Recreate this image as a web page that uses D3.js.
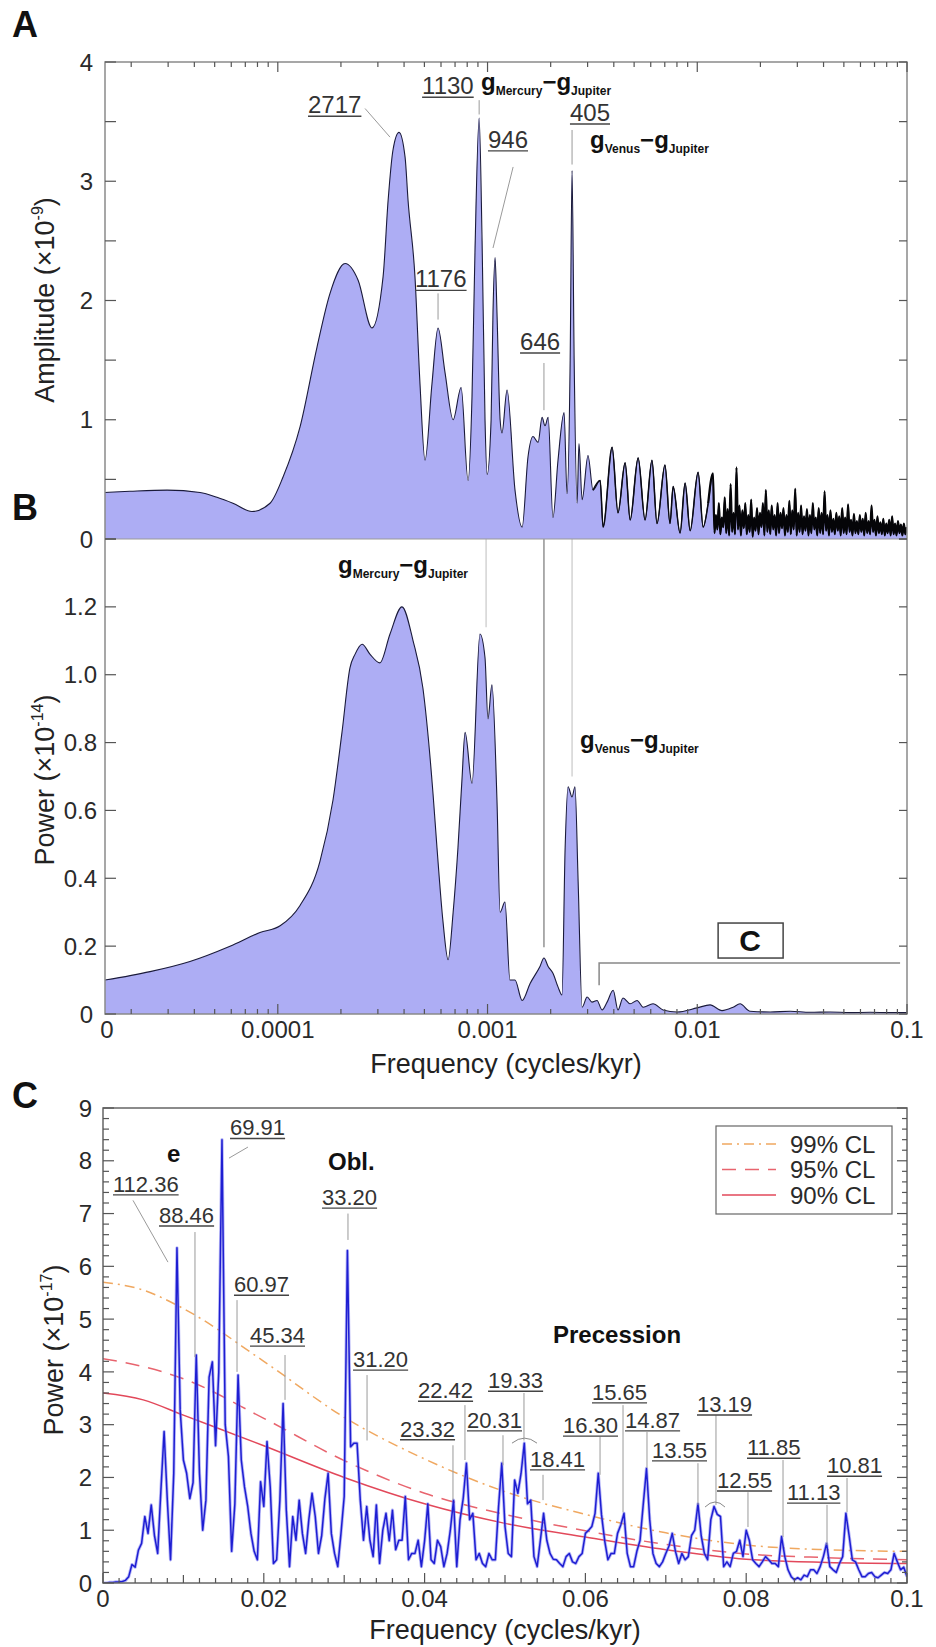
<!DOCTYPE html>
<meta charset="utf-8">
<script src="https://d3js.org/d3.v7.min.js"></script>
<style>
  body { margin: 0; background: #fff; }
  text { font-family: "Liberation Sans", Arial, Helvetica, sans-serif; }
</style>
<body>
<svg id="fig" width="936" height="1647"></svg>
<script>
// ---------- data ----------
// panel A: amplitude spectrum, [log10 frequency, amplitude x1e-9]
var ampSmooth = [
  [-4.824, 0.39], [-4.705, 0.40], [-4.528, 0.41], [-4.371, 0.39], [-4.290, 0.35], [-4.214, 0.30],
  [-4.123, 0.23], [-4.037, 0.30], [-3.975, 0.52], [-3.894, 0.94], [-3.813, 1.61], [-3.751, 2.06],
  [-3.679, 2.31], [-3.617, 2.17], [-3.551, 1.77], [-3.498, 2.20], [-3.474, 2.84], [-3.451, 3.26],
  [-3.422, 3.41], [-3.393, 3.20], [-3.379, 2.84], [-3.346, 2.20], [-3.322, 1.30], [-3.298, 0.66],
  [-3.265, 1.30], [-3.236, 1.77], [-3.203, 1.40], [-3.164, 1.00], [-3.126, 1.27], [-3.093, 0.49],
  [-3.074, 1.20], [-3.060, 2.40], [-3.040, 3.53], [-3.026, 2.50], [-3.012, 1.00], [-3.002, 0.54],
  [-2.983, 1.00], [-2.974, 1.90], [-2.964, 2.36], [-2.955, 1.90], [-2.940, 1.00], [-2.931, 0.89],
  [-2.907, 1.25], [-2.869, 0.41], [-2.835, 0.10], [-2.807, 0.69], [-2.783, 0.86], [-2.759, 0.81],
  [-2.740, 1.02], [-2.726, 0.95], [-2.711, 1.02], [-2.688, 0.18], [-2.664, 0.66], [-2.635, 1.06],
  [-2.621, 0.38], [-2.606, 1.50], [-2.597, 3.09], [-2.587, 1.50], [-2.573, 0.30], [-2.564, 0.80],
  [-2.549, 0.33], [-2.521, 0.70], [-2.497, 0.41], [-2.463, 0.49], [-2.449, 0.10], [-2.406, 0.77],
  [-2.378, 0.22], [-2.344, 0.64], [-2.320, 0.16], [-2.282, 0.68], [-2.249, 0.16], [-2.216, 0.66],
  [-2.192, 0.13], [-2.154, 0.62], [-2.130, 0.13], [-2.115, 0.44], [-2.082, 0.05], [-2.058, 0.47],
  [-2.034, 0.07], [-1.996, 0.56], [-1.972, 0.10], [-1.948, 0.30]
];
// dense high-frequency part of A, regular log10 grid
var ampDenseStart = -1.925, ampDenseStep = 0.007;
var ampDense = [
  0.55, 0.05, 0.20, 0.08, 0.30, 0.04, 0.18, 0.10, 0.35, 0.05, 0.25, 0.03, 0.46, 0.06, 0.22, 0.04,
  0.60, 0.08, 0.28, 0.03, 0.24, 0.09, 0.30, 0.04, 0.20, 0.06, 0.33, 0.02, 0.18, 0.07, 0.26, 0.04,
  0.22, 0.10, 0.30, 0.03, 0.41, 0.06, 0.24, 0.04, 0.28, 0.08, 0.20, 0.03, 0.30, 0.05, 0.22, 0.09,
  0.26, 0.03, 0.20, 0.06, 0.32, 0.04, 0.24, 0.08, 0.42, 0.03, 0.22, 0.06, 0.28, 0.04, 0.19, 0.07,
  0.25, 0.03, 0.20, 0.05, 0.30, 0.08, 0.18, 0.03, 0.26, 0.05, 0.22, 0.04, 0.40, 0.07, 0.20, 0.03,
  0.24, 0.06, 0.17, 0.04, 0.22, 0.07, 0.19, 0.03, 0.26, 0.05, 0.18, 0.04, 0.29, 0.06, 0.16, 0.03,
  0.21, 0.05, 0.15, 0.04, 0.20, 0.06, 0.17, 0.03, 0.22, 0.05, 0.15, 0.04, 0.28, 0.06, 0.16, 0.03,
  0.19, 0.05, 0.14, 0.04, 0.17, 0.03, 0.13, 0.05, 0.16, 0.03, 0.19, 0.04, 0.13, 0.03, 0.15, 0.05,
  0.12, 0.03, 0.13, 0.04, 0.10
];

// panel B: power spectrum, [log10 frequency, power x1e-14]
var powB = [
  [-4.824, 0.10], [-4.609, 0.125], [-4.419, 0.155], [-4.228, 0.20], [-4.085, 0.24], [-3.989, 0.26],
  [-3.894, 0.32], [-3.799, 0.45], [-3.737, 0.63], [-3.694, 0.83], [-3.656, 1.02], [-3.632, 1.06],
  [-3.598, 1.09], [-3.560, 1.06], [-3.513, 1.035], [-3.465, 1.12], [-3.408, 1.20], [-3.355, 1.10],
  [-3.308, 0.96], [-3.260, 0.65], [-3.241, 0.49], [-3.212, 0.27], [-3.188, 0.16], [-3.164, 0.30],
  [-3.141, 0.49], [-3.122, 0.69], [-3.107, 0.83], [-3.074, 0.68], [-3.036, 1.12], [-3.012, 1.05],
  [-2.998, 0.87], [-2.979, 0.97], [-2.955, 0.63], [-2.940, 0.30], [-2.917, 0.33], [-2.893, 0.10],
  [-2.869, 0.10], [-2.835, 0.04], [-2.797, 0.09], [-2.750, 0.14], [-2.731, 0.165], [-2.711, 0.14],
  [-2.688, 0.12], [-2.664, 0.08], [-2.645, 0.056], [-2.630, 0.49], [-2.616, 0.67], [-2.597, 0.64],
  [-2.583, 0.67], [-2.568, 0.39], [-2.549, 0.02], [-2.525, 0.05], [-2.502, 0.035], [-2.478, 0.04],
  [-2.454, 0.012], [-2.430, 0.035], [-2.401, 0.07], [-2.378, 0.012], [-2.354, 0.047], [-2.320, 0.03],
  [-2.287, 0.04], [-2.258, 0.02], [-2.211, 0.03], [-2.163, 0.012], [-2.096, 0.006], [-2.001, 0.018],
  [-1.939, 0.027], [-1.882, 0.01], [-1.829, 0.02], [-1.796, 0.03], [-1.748, 0.008], [-1.653, 0.006],
  [-1.557, 0.008], [-1.462, 0.005], [-1.367, 0.006], [-1.271, 0.004], [-1.176, 0.005], [-1.081, 0.004],
  [-1.0, 0.004]
];

// panel C: power spectrum x1e-17 on a regular frequency grid
var cStep = 0.0004;
var powC = [
  0, 0, 0.01, 0.01, 0.02, 0.02, 0.03, 0.05, 0.12, 0.35,
  0.30, 0.62, 0.75, 1.26, 0.94, 1.48, 0.90, 0.56, 1.75, 2.87,
  1.57, 0.44, 2.08, 6.35, 3.28, 2.33, 2.08, 1.60, 1.90, 4.32,
  2.08, 1.00, 1.57, 3.90, 4.19, 2.60, 4.00, 8.40, 3.00, 2.40,
  0.60, 1.50, 3.94, 2.33, 1.82, 1.45, 0.94, 0.60, 0.44, 1.92,
  1.45, 2.68, 1.82, 0.37, 0.44, 1.57, 3.40, 1.38, 0.31, 1.26,
  0.81, 1.57, 0.94, 0.56, 1.20, 1.70, 1.26, 0.56, 0.90, 1.60,
  2.08, 0.94, 0.56, 0.31, 0.94, 1.64, 6.30, 2.58, 2.65, 2.65,
  1.57, 0.81, 1.45, 0.81, 0.50, 1.48, 0.37, 1.00, 1.32, 0.80,
  1.38, 0.63, 0.81, 0.81, 1.64, 0.44, 0.56, 0.56, 0.81, 0.31,
  0.80, 1.50, 0.44, 0.37, 0.81, 0.69, 0.31, 0.56, 1.00, 1.57,
  0.31, 1.19, 1.60, 2.27, 1.20, 1.32, 0.44, 0.56, 0.37, 0.31,
  0.56, 0.44, 0.44, 1.45, 2.27, 1.07, 0.56, 0.50, 1.95, 1.70,
  2.08, 2.65, 1.50, 1.57, 0.50, 0.31, 0.81, 1.32, 0.81, 0.56,
  0.45, 0.44, 0.37, 0.31, 0.50, 0.56, 0.40, 0.37, 0.50, 0.56,
  0.94, 1.00, 1.07, 1.32, 2.08, 1.30, 0.80, 0.44, 0.56, 0.56,
  0.94, 1.10, 1.32, 0.56, 0.31, 0.31, 0.60, 0.81, 1.50, 2.17,
  1.20, 0.56, 0.37, 0.31, 0.40, 0.56, 0.70, 0.94, 0.60, 0.37,
  0.56, 0.44, 0.50, 0.90, 1.00, 1.50, 0.90, 0.56, 0.44, 1.20,
  1.45, 1.30, 1.26, 0.31, 0.40, 0.31, 0.56, 0.60, 0.81, 0.50,
  1.00, 0.80, 0.44, 0.37, 0.31, 0.40, 0.50, 0.44, 0.37, 0.37,
  0.31, 0.88, 0.50, 0.25, 0.12, 0.06, 0.10, 0.06, 0.15, 0.12,
  0.25, 0.25, 0.18, 0.31, 0.50, 0.75, 0.31, 0.25, 0.20, 0.37,
  0.50, 1.32, 0.90, 0.44, 0.40, 0.25, 0.12, 0.12, 0.18, 0.20,
  0.12, 0.10, 0.15, 0.20, 0.18, 0.25, 0.56, 0.40, 0.25, 0.30,
  0.12
];

// confidence levels (panel C)
var clFreq = [0, 0.005, 0.01, 0.02, 0.03, 0.04, 0.05, 0.06, 0.07, 0.08, 0.09, 0.1];
var cl99 = [5.7, 5.55, 5.2, 4.2, 3.14, 2.35, 1.73, 1.3, 0.95, 0.72, 0.63, 0.6];
var cl95 = [4.25, 4.1, 3.87, 3.12, 2.32, 1.7, 1.3, 0.99, 0.73, 0.55, 0.48, 0.44];
var cl90 = [3.6, 3.47, 3.18, 2.6, 2.0, 1.5, 1.13, 0.87, 0.63, 0.45, 0.39, 0.37];
var clNames = ["99% CL", "95% CL", "90% CL"];

// annotations: [label, log10 f text, value text, log10 f1, v1, log10 f2, v2]
var annA = [
  ["2717", -3.856, 3.57, -3.584, 3.61, -3.465, 3.37],
  ["1130", -3.312, 3.73, -3.040, 3.68, -3.040, 3.56],
  ["946", -2.998, 3.28, -2.878, 3.12, -2.974, 2.44],
  ["405", -2.607, 3.505, -2.597, 3.43, -2.597, 3.14],
  ["1176", -3.346, 2.11, -3.236, 2.06, -3.236, 1.84],
  ["646", -2.845, 1.585, -2.731, 1.476, -2.731, 1.08]
];
var gLabA = [["Mercury", -3.031, 3.765], ["Venus", -2.511, 3.275]];
var gLabB = [["Mercury", -3.713, 1.30], ["Venus", -2.559, 0.785]];
var guideB = [[-3.007, 1.14], [-2.731, 0.197], [-2.597, 0.70]];
var bracketB = {f0: -2.468, f1: -1.033, v: 0.15, v0: 0.085, boxF: -1.748, boxV: 0.218};

// [label, f text, value text, f1, v1, f2, v2]
var annC = [
  ["112.36", 0.00124, 7.41, 0.00373, 7.25, 0.00808, 6.08],
  ["88.46", 0.00697, 6.82, 0.01144, 6.65, 0.01144, 4.28],
  ["69.91", 0.0158, 8.48, 0.01803, 8.26, 0.01567, 8.05],
  ["60.97", 0.01629, 5.51, 0.01667, 5.36, 0.01667, 4.0],
  ["45.34", 0.01828, 4.545, 0.02264, 4.32, 0.02264, 3.47],
  ["33.20", 0.02724, 7.16, 0.03047, 7.0, 0.03047, 6.5],
  ["31.20", 0.0311, 4.09, 0.03284, 3.94, 0.03284, 2.7],
  ["23.32", 0.03694, 2.77, 0.04353, 2.61, 0.04353, 1.57],
  ["22.42", 0.03918, 3.5, 0.04502, 3.37, 0.04502, 2.33],
  ["20.31", 0.04527, 2.94, 0.04975, 2.8, 0.04975, 2.23],
  ["19.33", 0.04789, 3.69, 0.05236, 3.6, 0.05236, 2.7],
  ["18.41", 0.05311, 2.2, 0.05473, 2.05, 0.05473, 1.57],
  ["16.30", 0.05721, 2.84, 0.06182, 2.77, 0.06182, 2.05],
  ["15.65", 0.06082, 3.47, 0.06468, 3.37, 0.06468, 1.34],
  ["14.87", 0.06493, 2.94, 0.06766, 2.86, 0.06766, 2.18],
  ["13.55", 0.06828, 2.37, 0.074, 2.27, 0.074, 1.48],
  ["13.19", 0.07388, 3.24, 0.07624, 3.18, 0.07624, 1.48],
  ["12.55", 0.07637, 1.8, 0.08022, 1.72, 0.08022, 1.06],
  ["11.85", 0.0801, 2.42, 0.08458, 2.33, 0.08458, 0.87],
  ["11.13", 0.08507, 1.57, 0.09005, 1.48, 0.09005, 0.72],
  ["10.81", 0.09005, 2.08, 0.09254, 1.99, 0.09254, 1.34]
];
var arcsC = [[0.05087, 0.05398, 2.65], [0.07488, 0.07736, 1.44]];
var boldC = [["e", 0.00796, 7.97], ["Obl.", 0.02799, 7.82], ["Precession", 0.05597, 4.545]];

// ---------- drawing ----------
var svg = d3.select("#fig");

var xF = d3.scaleLog().domain([1.5e-5, 0.1]).range([105, 907]);
var yA = d3.scaleLinear().domain([0, 4]).range([539, 62]);
var yB = d3.scaleLinear().domain([0, 1.4]).range([1014, 539]);
var xC = d3.scaleLinear().domain([0, 0.1]).range([103, 907]);
var yC = d3.scaleLinear().domain([0, 9]).range([1583, 1108]);
var lf = function(v) { return xF(Math.pow(10, v)); };

var fillCol = "#adadf4", lineCol = "#1a1a3a";

function clip(id, x0, x1, y0, y1) {
  svg.append("clipPath").attr("id", id).append("rect")
    .attr("x", x0).attr("y", y0).attr("width", x1 - x0).attr("height", y1 - y0);
}
clip("clipA", 105, 907, 62, 539);
clip("clipB", 105, 907, 539, 1014);
clip("clipC", 103, 907, 1108, 1583);

// panel A
var ampLow = ampSmooth.map(function(d) { return [Math.pow(10, d[0]), d[1]]; });
var ampHigh = ampDense.map(function(v, i) { return [Math.pow(10, ampDenseStart + i * ampDenseStep), v]; });
var ampPts = ampLow.concat(ampHigh);
var gA = svg.append("g").attr("clip-path", "url(#clipA)");
var lineAf = d3.line().curve(d3.curveMonotoneX).x(d => xF(d[0])).y(d => yA(d[1]));
gA.append("path").datum(ampPts)
  .attr("fill", fillCol)
  .attr("d", d3.area().curve(d3.curveMonotoneX).x(d => xF(d[0])).y0(yA(0)).y1(d => yA(d[1])));
gA.append("path").datum(ampPts)
  .attr("fill", "none").attr("stroke", lineCol).attr("stroke-width", 1.1).attr("d", lineAf);
// the tail: darker from ~0.003, almost solid black in the dense part
gA.append("path").datum(ampLow.slice(-20))
  .attr("fill", "none").attr("stroke", "#0a0a14").attr("stroke-width", 1.5)
  .attr("stroke-linejoin", "round").attr("d", lineAf);
gA.append("path").datum(ampLow.slice(-1).concat(ampHigh))
  .attr("fill", "none").attr("stroke", "#050508").attr("stroke-width", 2.2)
  .attr("stroke-linejoin", "round").attr("d", lineAf);

// panel B
var powPts = powB.map(function(d) { return [Math.pow(10, d[0]), d[1]]; });
var gB = svg.append("g").attr("clip-path", "url(#clipB)");
gB.append("path").datum(powPts)
  .attr("fill", fillCol)
  .attr("d", d3.area().curve(d3.curveMonotoneX).x(d => xF(d[0])).y0(yB(0)).y1(d => yB(d[1])));
gB.append("path").datum(powPts)
  .attr("fill", "none").attr("stroke", lineCol).attr("stroke-width", 1.1)
  .attr("d", d3.line().curve(d3.curveMonotoneX).x(d => xF(d[0])).y(d => yB(d[1])));

// guide lines in B
var guideCols = ["#c8c8c8", "#777", "#c8c8c8"];
guideB.forEach(function(d, i) {
  svg.append("line").attr("x1", lf(d[0])).attr("x2", lf(d[0]))
    .attr("y1", yB(1.4)).attr("y2", yB(d[1]))
    .attr("stroke", guideCols[i]).attr("stroke-width", 1.2);
});

// panel C
var gC = svg.append("g").attr("clip-path", "url(#clipC)");
var clSets = [cl99, cl95, cl90];
var clCols = ["#f0a860", "#e8646e", "#e2485a"];
var clDash = ["10,5,2,5", "14,9", null];
clSets.forEach(function(s, k) {
  gC.append("path").datum(s)
    .attr("fill", "none").attr("stroke", clCols[k]).attr("stroke-width", 1.5)
    .attr("stroke-dasharray", clDash[k])
    .attr("d", d3.line().curve(d3.curveMonotoneX).x((d, i) => xC(clFreq[i])).y(d => yC(d)));
});
var lineC = d3.line().x((d, i) => xC(i * cStep)).y(d => yC(d));
gC.append("path").datum(powC)
  .attr("fill", "none").attr("stroke", "#7c7cf0").attr("stroke-width", 3.2)
  .attr("stroke-opacity", 0.55).attr("stroke-linejoin", "round").attr("d", lineC);
gC.append("path").datum(powC)
  .attr("fill", "none").attr("stroke", "#1e1ed2").attr("stroke-width", 1.5)
  .attr("stroke-linejoin", "round").attr("d", lineC);

// ---------- frames and ticks ----------
var tickCol = "#555";
function hTicks(vals, y, x0, len, w) {
  svg.append("g").selectAll("line").data(vals).join("line")
    .attr("x1", x0).attr("x2", x0 + len).attr("y1", d => y(d)).attr("y2", d => y(d))
    .attr("stroke", tickCol).attr("stroke-width", w || 1.2);
}
function vTicks(vals, x, y0, lenFn, w) {
  svg.append("g").selectAll("line").data(vals).join("line")
    .attr("x1", d => x(d)).attr("x2", d => x(d)).attr("y1", y0).attr("y2", d => y0 + lenFn(d))
    .attr("stroke", tickCol).attr("stroke-width", w || 1.2);
}
function frame(x0, x1, y0, y1, col) {
  svg.append("rect").attr("x", x0).attr("y", y0).attr("width", x1 - x0).attr("height", y1 - y0)
    .attr("fill", "none").attr("stroke", col).attr("stroke-width", 1.5);
}

// A and B frames
frame(105, 907, 62, 1014, "#8a8a8a");
svg.append("line").attr("x1", 105).attr("x2", 907).attr("y1", 539).attr("y2", 539)
  .attr("stroke", "#9a9a9a").attr("stroke-width", 1.2);

var logTicks = xF.ticks();
var isMajor = function(v) { var l = Math.log10(v); return Math.abs(l - Math.round(l)) < 1e-6; };
vTicks(logTicks, xF, 62, d => isMajor(d) ? 10 : 5);
vTicks(logTicks, xF, 1014, d => isMajor(d) ? -10 : -5);

hTicks(yA.ticks(8), yA, 105, 11);
hTicks(yA.ticks(8), yA, 907, -8);
hTicks(yB.ticks(7), yB, 105, 11);
hTicks(yB.ticks(7), yB, 907, -8);

// C frame
frame(103, 907, 1108, 1583, "#666");
var cx = xC.ticks(50);
vTicks(cx, xC, 1583, function(d) {
  var r = Math.round(d * 1000);
  return r % 20 === 0 ? -10 : (r % 10 === 0 ? -8 : -5);
});
var cy = yC.ticks(45);
var isInt = function(d) { return Math.abs(d - Math.round(d)) < 1e-6; };
svg.append("g").selectAll("line").data(cy).join("line")
  .attr("x1", 103).attr("x2", d => 103 + (isInt(d) ? 11 : 6))
  .attr("y1", d => yC(d)).attr("y2", d => yC(d)).attr("stroke", tickCol).attr("stroke-width", 1.2);
svg.append("g").selectAll("line").data(cy).join("line")
  .attr("x1", 907).attr("x2", d => 907 - (isInt(d) ? 10 : 5))
  .attr("y1", d => yC(d)).attr("y2", d => yC(d)).attr("stroke", tickCol).attr("stroke-width", 1.2);

// ---------- tick labels ----------
var tlSize = 24, tlCol = "#2a2a2a";
svg.append("g").selectAll("text").data(yA.ticks(4)).join("text")
  .attr("x", 93).attr("y", d => yA(d)).attr("dy", "0.36em").attr("text-anchor", "end")
  .attr("font-size", tlSize).attr("fill", tlCol).text(d => d);
svg.append("g").selectAll("text").data(yB.ticks(7).filter(d => d < 1.3 && d > 0)).join("text")
  .attr("x", 97).attr("y", d => yB(d)).attr("dy", "0.36em").attr("text-anchor", "end")
  .attr("font-size", tlSize).attr("fill", tlCol).text(d => d3.format(".1f")(d));
svg.append("text").attr("x", 93).attr("y", yB(0)).attr("dy", "0.36em").attr("text-anchor", "end")
  .attr("font-size", tlSize).attr("fill", tlCol).text("0");

svg.append("g").selectAll("text").data(logTicks.filter(isMajor)).join("text")
  .attr("x", d => xF(d)).attr("y", 1038).attr("text-anchor", "middle")
  .attr("font-size", tlSize).attr("fill", tlCol).text(d => d3.format("~g")(d));
svg.append("text").attr("x", xF.range()[0] + 2).attr("y", 1038).attr("text-anchor", "middle")
  .attr("font-size", tlSize).attr("fill", tlCol).text("0");

svg.append("g").selectAll("text").data(yC.ticks(9)).join("text")
  .attr("x", 92).attr("y", d => yC(d)).attr("dy", "0.36em").attr("text-anchor", "end")
  .attr("font-size", tlSize).attr("fill", tlCol).text(d => d);
svg.append("g").selectAll("text").data(xC.ticks(5)).join("text")
  .attr("x", d => xC(d)).attr("y", 1607).attr("text-anchor", "middle")
  .attr("font-size", tlSize).attr("fill", tlCol).text(d => d === 0 ? "0" : d3.format("~g")(d));

// ---------- titles ----------
function yTitle(x, y, main, sup) {
  var t = svg.append("text").attr("transform", "translate(" + x + "," + y + ") rotate(-90)")
    .attr("text-anchor", "middle").attr("font-size", 27).attr("fill", "#222");
  t.append("tspan").text(main + " (\u00d710");
  t.append("tspan").attr("font-size", 16).attr("dy", -11).text(sup);
  t.append("tspan").attr("dy", 11).text(")");
}
yTitle(54, 300, "Amplitude", "-9");
yTitle(54, 780, "Power", "-14");
yTitle(63, 1350, "Power", "-17");

svg.append("text").attr("x", 506).attr("y", 1073).attr("text-anchor", "middle")
  .attr("font-size", 27).attr("fill", "#222").text("Frequency (cycles/kyr)");
svg.append("text").attr("x", 505).attr("y", 1639).attr("text-anchor", "middle")
  .attr("font-size", 27).attr("fill", "#222").text("Frequency (cycles/kyr)");

[["A", 37], ["B", 520], ["C", 1108]].forEach(function(d) {
  svg.append("text").attr("x", 12).attr("y", d[1]).attr("font-size", 36)
    .attr("font-weight", "bold").attr("fill", "#111").text(d[0]);
});

// ---------- annotations ----------
function underText(txt, x, y, size) {
  var t = svg.append("text").attr("x", x).attr("y", y).attr("font-size", size)
    .attr("fill", "#333").text(txt);
  var w = t.node().getComputedTextLength();
  svg.append("line").attr("x1", x).attr("x2", x + w).attr("y1", y + 3).attr("y2", y + 3)
    .attr("stroke", "#444").attr("stroke-width", 1.4);
}
function leader(x1, y1, x2, y2) {
  svg.append("line").attr("x1", x1).attr("y1", y1).attr("x2", x2).attr("y2", y2)
    .attr("stroke", "#9a9a9a").attr("stroke-width", 1);
}
function gLabel(planet, x, y) {
  var t = svg.append("text").attr("x", x).attr("y", y).attr("font-weight", "bold")
    .attr("font-size", 24).attr("fill", "#111");
  t.append("tspan").text("g");
  t.append("tspan").attr("font-size", 12).attr("dy", 5).text(planet);
  t.append("tspan").attr("dy", -5).text("\u2212g");
  t.append("tspan").attr("font-size", 12).attr("dy", 5).text("Jupiter");
}

annA.forEach(function(d) {
  leader(lf(d[3]), yA(d[4]), lf(d[5]), yA(d[6]));
  underText(d[0], lf(d[1]), yA(d[2]), 24);
});
gLabA.forEach(function(d) { gLabel(d[0], lf(d[1]), yA(d[2])); });
gLabB.forEach(function(d) { gLabel(d[0], lf(d[1]), yB(d[2])); });

// bracket marking the range of panel C
svg.append("path")
  .attr("d", "M" + lf(bracketB.f0) + "," + yB(bracketB.v0) + "V" + yB(bracketB.v) + "H" + lf(bracketB.f1))
  .attr("fill", "none").attr("stroke", "#888").attr("stroke-width", 1.5);
var bx = lf(bracketB.boxF), by = yB(bracketB.boxV);
svg.append("rect").attr("x", bx - 32).attr("y", by - 17).attr("width", 65).attr("height", 35)
  .attr("fill", "#fff").attr("stroke", "#444").attr("stroke-width", 1.5);
svg.append("text").attr("x", bx).attr("y", by).attr("dy", "0.36em").attr("text-anchor", "middle")
  .attr("font-size", 30).attr("font-weight", "bold").attr("fill", "#111").text("C");

annC.forEach(function(d) {
  leader(xC(d[3]), yC(d[4]), xC(d[5]), yC(d[6]));
  underText(d[0], xC(d[1]), yC(d[2]), 22);
});
arcsC.forEach(function(d) {
  var x0 = xC(d[0]), x1 = xC(d[1]), y = yC(d[2]);
  svg.append("path").attr("d", "M" + x0 + "," + y + "Q" + (x0 + x1) / 2 + "," + (y - 10) + " " + x1 + "," + y)
    .attr("fill", "none").attr("stroke", "#888").attr("stroke-width", 1);
});
boldC.forEach(function(d) {
  svg.append("text").attr("x", xC(d[1])).attr("y", yC(d[2])).attr("font-size", 24)
    .attr("font-weight", "bold").attr("fill", "#111").text(d[0]);
});

// ---------- legend ----------
var lg = svg.append("g");
lg.append("rect").attr("x", 716).attr("y", 1126).attr("width", 176).attr("height", 88)
  .attr("fill", "#fff").attr("stroke", "#666").attr("stroke-width", 1.2);
clNames.forEach(function(n, k) {
  var yy = 1144 + k * 25.5;
  lg.append("line").attr("x1", 722).attr("x2", 776).attr("y1", yy).attr("y2", yy)
    .attr("stroke", clCols[k]).attr("stroke-width", 1.5).attr("stroke-dasharray", clDash[k]);
  lg.append("text").attr("x", 790).attr("y", yy).attr("dy", "0.36em").attr("font-size", 24)
    .attr("fill", "#2a2a2a").text(n);
});
</script>
</body>
